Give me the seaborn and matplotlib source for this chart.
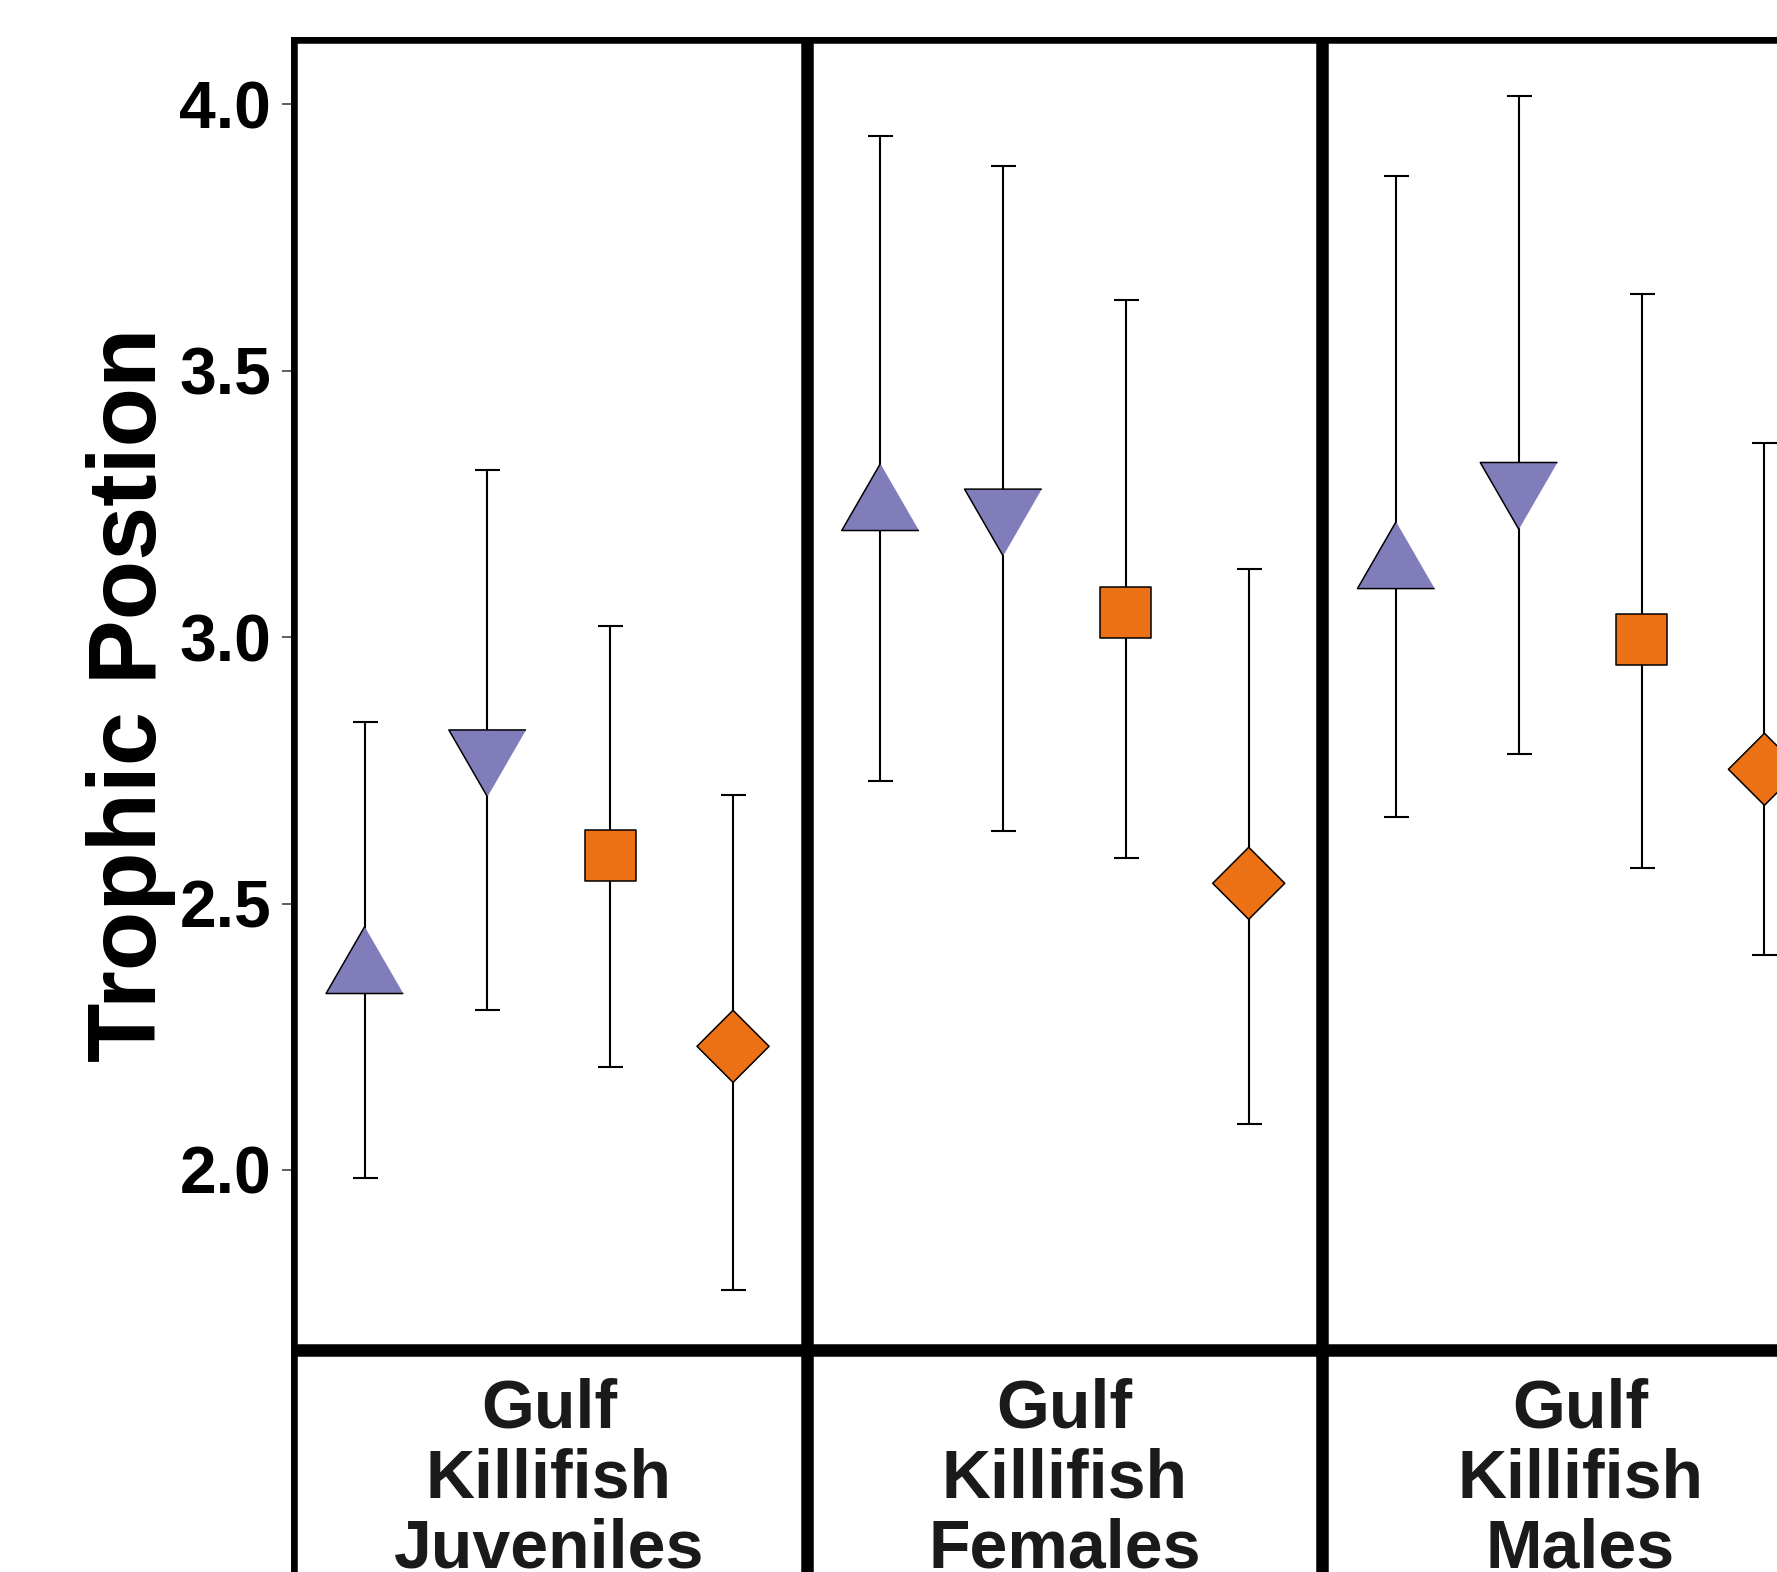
import numpy as np
import pandas as pd
import matplotlib
matplotlib.use("Agg")
import matplotlib.pyplot as plt
from matplotlib.markers import MarkerStyle
import seaborn as sns

# ---------------- data ----------------
groups = ["Gulf\nKillifish\nJuveniles", "Gulf\nKillifish\nFemales", "Gulf\nKillifish\nMales"]
estimates = ["Estimate 1", "Estimate 2", "Estimate 3", "Estimate 4"]

juveniles_mean = [2.373, 2.784, 2.591, 2.232]
juveniles_lower = [1.985, 2.301, 2.194, 1.775]
juveniles_upper = [2.840, 3.314, 3.021, 2.704]

females_mean = [3.242, 3.236, 3.047, 2.538]
females_lower = [2.730, 2.636, 2.585, 2.087]
females_upper = [3.940, 3.885, 3.633, 3.128]

males_mean = [3.133, 3.286, 2.996, 2.752]
males_lower = [2.663, 2.780, 2.566, 2.403]
males_upper = [3.866, 4.015, 3.644, 3.365]

y_ticks = [2.0, 2.5, 3.0, 3.5, 4.0]
y_label = "Trophic Postion"

means = [juveniles_mean, females_mean, males_mean]
lowers = [juveniles_lower, females_lower, males_lower]
uppers = [juveniles_upper, females_upper, males_upper]

rows = []
for g, m, lo, hi in zip(groups, means, lowers, uppers):
    for k, e in enumerate(estimates):
        rows.append({"group": g, "estimate": e, "pos": k + 1,
                     "mean": m[k], "lower": lo[k], "upper": hi[k]})
df = pd.DataFrame(rows)

# ---------------- style ----------------
sns.set_theme(style="white")
plt.rcParams["font.family"] = ["Liberation Sans", "DejaVu Sans"]
plt.rcParams["font.weight"] = "bold"

PURPLE = "#807DBA"
ORANGE = "#EC7014"
palette = {estimates[0]: PURPLE, estimates[1]: PURPLE,
           estimates[2]: ORANGE, estimates[3]: ORANGE}
tri_up = MarkerStyle([(0, 2), (-1.732, -1), (1.732, -1)])
tri_dn = MarkerStyle([(0, -2), (-1.732, 1), (1.732, 1)])
markers = {estimates[0]: tri_up, estimates[1]: tri_dn,
           estimates[2]: "s", estimates[3]: "D"}
sizes = {estimates[0]: 64.2 ** 2, estimates[1]: 64.2 ** 2,
         estimates[2]: 36.7 ** 2, estimates[3]: 36.7 ** 2}

W, H = 1777, 1572
fig = plt.figure(figsize=(W / 100, H / 100), dpi=100)
fig.patch.set_facecolor("white")


def box(x0, y0, x1, y1):
    return [x0 / W, 1 - y1 / H, (x1 - x0) / W, (y1 - y0) / H]


edges = [291, 806.7, 1322.4, 1838.1]
top, bottom, strip_bottom = 36.7, 1349.5, 1700
BORDER = 9  # pt, only inner half visible (clipped)
strip_baselines = [1427, 1497, 1567]

all_lo = df["lower"].min()
all_hi = df["upper"].max()
rng = all_hi - all_lo
ylim = (all_lo - 0.05 * rng, all_hi + 0.05 * rng)


def style_border(ax):
    for sp in ax.spines.values():
        sp.set_visible(True)
        sp.set_color("black")
        sp.set_linewidth(BORDER)
        sp.set_clip_path(ax.patch)
        sp.set_clip_on(True)


for i, g in enumerate(groups):
    ax = fig.add_axes(box(edges[i], top, edges[i + 1], bottom))
    ax.set_facecolor("white")
    sub = df[df["group"] == g]
    ax.errorbar(sub["pos"], sub["mean"],
                yerr=[sub["mean"] - sub["lower"], sub["upper"] - sub["mean"]],
                fmt="none", ecolor="black", elinewidth=1.5, capsize=9,
                capthick=1.5, zorder=2)
    sns.scatterplot(data=sub, x="pos", y="mean", hue="estimate", style="estimate",
                    size="estimate", palette=palette, markers=markers, sizes=sizes,
                    hue_order=estimates, style_order=estimates, size_order=estimates,
                    edgecolor="black", linewidth=1.1, legend=False, ax=ax, zorder=3)
    ax.set_xlim(0.4, 4.6)
    ax.set_ylim(*ylim)
    ax.set_xticks([])
    ax.set_xlabel("")
    ax.set_ylabel("")
    ax.grid(False)
    if i == 0:
        ax.set_yticks(y_ticks)
        ax.set_yticklabels([f"{t:.1f}" for t in y_ticks])
        ax.tick_params(axis="y", direction="out", length=6.5, width=1.1,
                       color="#333333", pad=7.9, labelsize=47.5,
                       labelcolor="black", left=True)
    else:
        ax.set_yticks([])
    style_border(ax)

    # strip at bottom
    sax = fig.add_axes(box(edges[i], bottom, edges[i + 1], strip_bottom))
    sax.set_facecolor("white")
    sax.set_xticks([])
    sax.set_yticks([])
    style_border(sax)
    cx = (edges[i] + edges[i + 1]) / 2
    for line, base in zip(g.split("\n"), strip_baselines):
        fig.text(cx / W, 1 - base / H, line, ha="center", va="baseline",
                 fontsize=49, fontweight="bold", color="#1A1A1A")

fig.text(156 / W, 1 - 694.7 / H, y_label, rotation=90, rotation_mode="anchor",
         ha="center", va="baseline", fontsize=70, fontweight="bold", color="black")

fig.savefig("out.png", dpi=100)
